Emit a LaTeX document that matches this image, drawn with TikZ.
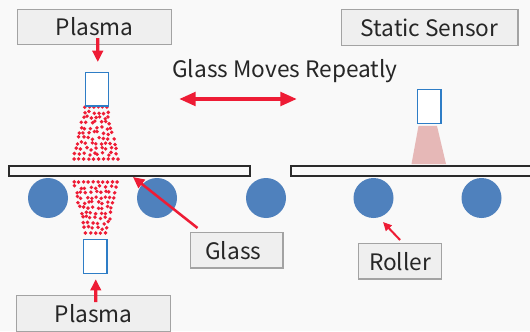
\documentclass[tikz,border=0pt]{standalone}
\usepackage{fontspec}
\setmainfont{Noto Sans CJK SC}
\usetikzlibrary{arrows.meta,calc}

\definecolor{pagegray}{HTML}{F9F9F9}
\definecolor{boxgray}{HTML}{EFEFEF}
\definecolor{boxedge}{HTML}{A3A3A3}
\definecolor{sprayred}{HTML}{EE1C35}
\definecolor{headblue}{HTML}{2E7DC6}
\definecolor{rollerblue}{HTML}{4F81BD}
\definecolor{conepink}{HTML}{E6B8B7}
\definecolor{platedark}{HTML}{2B2B2B}

\tikzset{
  labelbox/.style={draw=boxedge, fill=boxgray, line width=1.1pt, font=\fontsize{17}{20}\selectfont, text=black!85, inner sep=0pt, anchor=north west},
  sensorhead/.style={draw=headblue, fill=white, line width=0.9pt, inner sep=0pt, anchor=north west},
  plate/.style={draw=platedark, fill=pagegray, line width=1.5pt},
  roller/.style={circle, fill=rollerblue, minimum size=30pt, inner sep=0pt},
  redarrow/.style={-{Triangle[length=#1*1.3pt,width=#1*1.2pt]}, sprayred, line width=2pt},
  redarrow/.default=6.5
}

% one spray of dots: top y, bottom y, half width at top, half width at bottom, centre x
\newcommand{\spraydots}[5]{
  \foreach \row in {0,...,10}{
    \pgfmathsetmacro{\rowy}{#1+(#2-#1)*\row/10}
    \pgfmathsetmacro{\halfw}{#3+(#4-#3)*\row/10}
    \pgfmathtruncatemacro{\ndots}{round(\halfw/2.4)}
    \foreach \k in {0,...,\ndots}{
      \pgfmathsetmacro{\jitx}{(\row==0 || \row==10) ? 0.3*rand : 1.4*rand}
      \pgfmathsetmacro{\jity}{(\row==0 || \row==10) ? 0.2*rand : 1.5*rand}
      \fill[sprayred] ({#5-\halfw+2*\halfw*\k/\ndots+\jitx},{\rowy+\jity}) circle (1.45pt);
    }
  }
}

\begin{document}
\begin{tikzpicture}[x=0.75pt,y=-0.75pt]
  \useasboundingbox (0,0) rectangle (530,331);
  \fill[pagegray] (0,0) rectangle (530,331);
  \pgfmathsetseed{4117}

  % rollers
  \foreach \name/\xpos in {rollA/48,rollB/157,rollC/266,rollD/373.5,rollE/481.5}
    \node[roller] (\name) at (\xpos,198) {};

  % glass plates
  \draw[plate] (8.5,165.5) rectangle (250,175.5);
  \draw[plate] (291,165.5) rectangle (536,175.5);

  % sprays
  \spraydots{107}{159}{11}{22}{96}
  \spraydots{182}{233}{21.5}{10}{95.5}
  \fill[conepink] (418.5,126) -- (437,126) -- (446,164) -- (411.5,164) -- cycle;

  % sensor heads
  \node[sensorhead, minimum width=17.5pt, minimum height=25pt] (headTop) at (84.5,72) {};
  \node[sensorhead, minimum width=17.5pt, minimum height=25.5pt] (headBottom) at (83,239) {};
  \node[sensorhead, minimum width=17.5pt, minimum height=25.5pt] (headStatic) at (417,89) {};

  % labels
  \node[labelbox, minimum width=115.5pt, minimum height=26pt] (plasmaTop) at (17,9) {Plasma};
  \node[labelbox, minimum width=132.5pt, minimum height=27pt] (sensorLabel) at (340.5,9) {Static Sensor};
  \node[labelbox, minimum width=69.5pt, minimum height=26.5pt] (glassLabel) at (189.5,232) {Glass\kern5pt};
  \node[labelbox, minimum width=62pt, minimum height=26.5pt] (rollerLabel) at (358,243) {Roller};
  \node[labelbox, minimum width=115.5pt, minimum height=27pt] (plasmaBottom) at (16,295) {Plasma};
  \node[font=\fontsize{17}{20}\selectfont, text=black!85, inner sep=0pt] (movesLabel) at (285,71) {Glass Moves Repeatly};

  % arrows
  \coordinate (moveLeft) at (179,99);
  \coordinate (moveRight) at (297,99);
  \coordinate (glassTip) at (133,177);
  \coordinate (rollerTip) at (383,222);
  \draw[sprayred, line width=3pt, {Triangle[length=12.5pt,width=10pt]}-{Triangle[length=12.5pt,width=10pt]}] (moveLeft) -- (moveRight);
  \draw[redarrow, line width=2.4pt] ($(plasmaTop.south)+(3,-7)$) -- ($(headTop.north)+(1,-10)$);
  \draw[redarrow, line width=2.4pt] ($(plasmaBottom.north)+(2,7)$) -- ($(headBottom.south)+(0.5,5)$);
  \draw[redarrow, line width=1.9pt] ($(glassLabel.north west)+(8,-4)$) -- (glassTip);
  \draw[redarrow=5, line width=1.5pt] ($(rollerLabel.north)+(0,-3)$) -- (rollerTip);
\end{tikzpicture}
\end{document}
